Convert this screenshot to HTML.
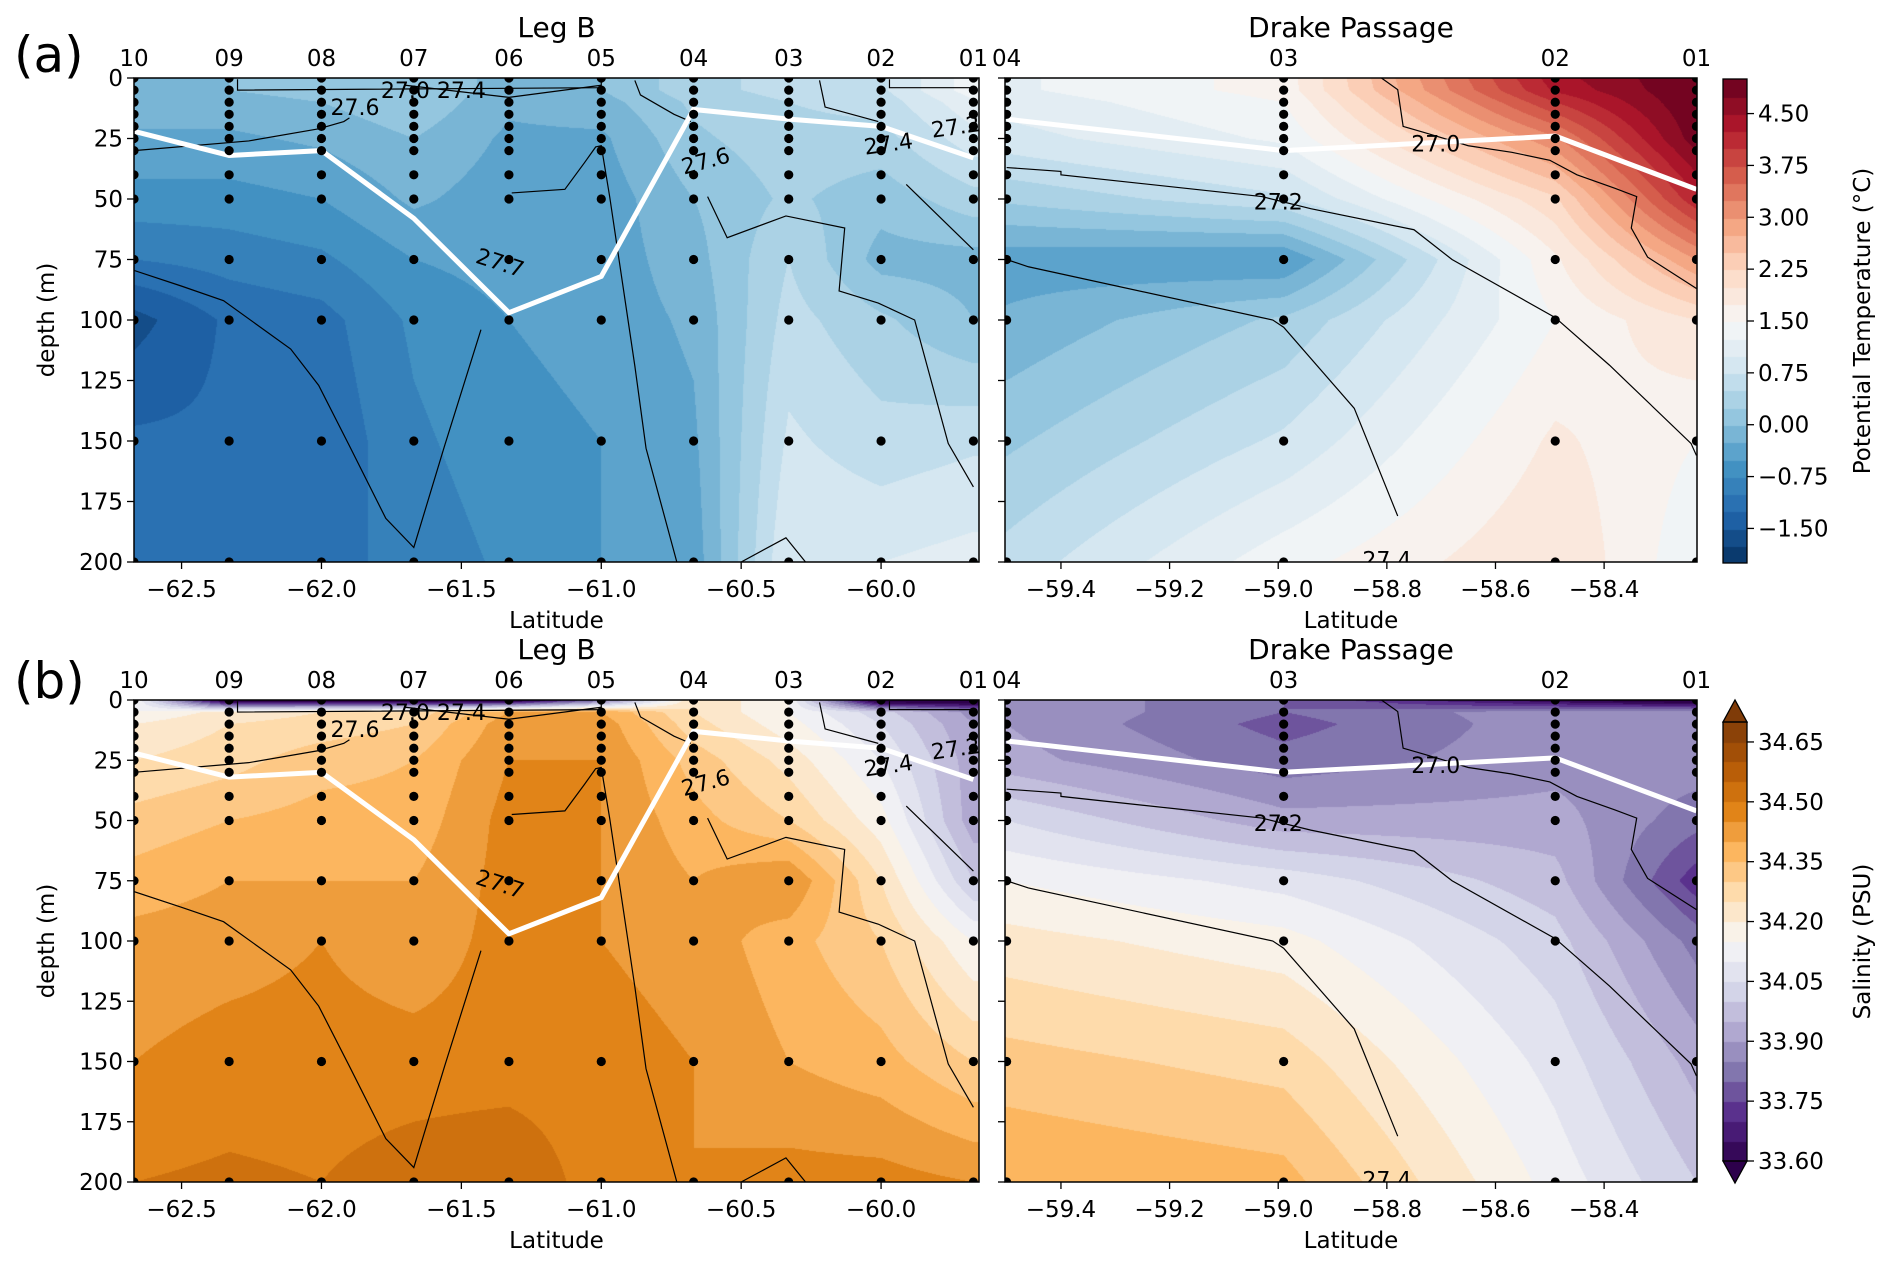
<!DOCTYPE html>
<html><head><meta charset="utf-8">
<style>
html,body{margin:0;padding:0;background:#fff;}
#wrap{position:relative;width:1892px;height:1273px;overflow:hidden;font-family:"DejaVu Sans","Liberation Sans",sans-serif;}
canvas{position:absolute;}
svg{position:absolute;left:0;top:0;}
text{font-family:"DejaVu Sans","Liberation Sans",sans-serif;fill:#000;}
</style></head>
<body>
<div id="wrap">
<canvas id="c0"></canvas>
<canvas id="c1"></canvas>
<canvas id="c2"></canvas>
<canvas id="c3"></canvas>
<canvas id="cb0"></canvas>
<canvas id="cb1"></canvas>
<svg id="svg" width="1892" height="1273" xmlns="http://www.w3.org/2000/svg"></svg>
</div>
<script>
// ---------- data ----------
const legNames=['10','09','08','07','06','05','04','03','02','01'];
const legLats=[-62.67,-62.33,-62.0,-61.67,-61.33,-61.0,-60.67,-60.33,-60.0,-59.67];
const dpNames=['04','03','02','01'];
const dpLats=[-59.5,-58.99,-58.49,-58.23];
const gridDepths=[0,5,10,25,50,75,100,150,200];
const sampleDepths=[0,5,10,15,20,25,30,40,50,75,100,150,200];
const legTemp=[
[-0.1,-0.1,-0.1,-0.3,-0.6,-1.0,-1.6,-1.2,-1.1],
[0.0,0.0,-0.1,-0.3,-0.6,-0.9,-1.2,-1.2,-1.2],
[0.1,0.1,0.0,-0.2,-0.5,-0.8,-1.1,-1.2,-1.1],
[0.2,0.2,0.2,0.0,-0.2,-0.5,-0.7,-0.8,-0.9],
[-0.1,-0.1,-0.2,-0.3,-0.4,-0.4,-0.5,-0.6,-0.7],
[0.0,0.0,-0.1,-0.3,-0.4,-0.4,-0.4,-0.5,-0.5],
[0.4,0.4,0.3,0.2,0.0,-0.1,-0.2,-0.3,-0.4],
[0.6,0.6,0.5,0.4,0.3,0.5,0.6,0.8,1.0],
[0.7,0.7,0.6,0.4,0.1,-0.1,0.3,0.6,1.0],
[1.4,1.4,1.2,0.9,0.4,-0.1,0.0,0.7,1.1]];
const dpTemp=[
[1.2,1.2,1.1,0.9,0.3,-0.4,-0.2,0.2,0.6],
[1.6,1.6,1.5,1.3,0.7,-0.5,0.3,0.8,1.4],
[4.4,4.3,4.0,3.2,2.2,1.7,1.5,1.8,2.0],
[5.0,5.0,5.0,4.9,4.2,3.0,2.0,1.5,1.3]];
const legSal=[
[34.15,34.15,34.2,34.25,34.32,34.37,34.42,34.45,34.5],
[33.5,34.22,34.25,34.28,34.35,34.4,34.43,34.47,34.51],
[33.5,34.25,34.27,34.33,34.37,34.4,34.45,34.47,34.5],
[33.5,34.27,34.3,34.35,34.37,34.4,34.42,34.47,34.53],
[33.5,34.4,34.43,34.45,34.47,34.47,34.47,34.47,34.55],
[33.8,34.4,34.43,34.45,34.45,34.45,34.45,34.47,34.47],
[34.25,34.25,34.27,34.33,34.37,34.4,34.43,34.45,34.45],
[34.15,34.15,34.17,34.23,34.3,34.45,34.37,34.4,34.47],
[33.5,34.02,34.05,34.1,34.17,34.25,34.3,34.37,34.47],
[33.5,33.88,33.9,33.92,33.92,34.0,34.15,34.3,34.45]];
const dpSal=[
[33.9,33.9,33.9,33.92,34.05,34.15,34.22,34.32,34.4],
[33.8,33.8,33.78,33.82,33.92,34.08,34.17,34.28,34.37],
[33.6,33.88,33.88,33.88,33.92,33.97,34.02,34.08,34.13],
[33.5,33.9,33.9,33.88,33.82,33.72,33.83,33.93,34.0]];
const legMld=[22,32,30,58,97,82,13,17,20,33];
const dpMld=[17,30,24,46];
const legContours=[
[[-62.67,79.5],[-62.5,86],[-62.35,92],[-62.11,112],[-62.01,127],[-61.9,152],[-61.77,182],[-61.67,194],[-61.56,152],[-61.43,104]],
[[-61.32,47.5],[-61.13,46],[-61.06,35],[-61.02,28.5],[-61.0,28],[-60.97,49],[-60.88,119],[-60.84,153],[-60.73,200]],
[[-62.67,30],[-62.26,26],[-62.01,21],[-61.92,18],[-61.9,16.5]],
[[-60.62,49],[-60.55,66],[-60.34,57],[-60.13,62],[-60.15,88],[-60.01,93],[-59.88,100],[-59.76,151],[-59.67,169]],
[[-60.88,1],[-60.86,7],[-60.74,15],[-60.68,18]],
[[-60.22,1],[-60.2,12],[-60.01,18]],
[[-59.91,44],[-59.67,71]],
[[-60.5,200],[-60.34,190],[-60.27,200]],
[[-62.3,0.5],[-62.3,5],[-61.0,4],[-61.0,0.5]],
[[-61.7,3],[-61.33,8],[-61.0,3]],
[[-59.97,0.5],[-59.97,4],[-59.67,4]]];
const dpContours=[
[[-58.81,0],[-58.78,4.8],[-58.77,20],[-58.73,22.6],[-58.65,28],[-58.57,30.7],[-58.5,34],[-58.45,40],[-58.38,45.6],[-58.34,49],[-58.35,62],[-58.32,74],[-58.23,87]],
[[-59.5,37],[-59.4,38.6],[-59.4,40],[-59.03,49],[-58.94,54],[-58.75,62.7],[-58.68,75],[-58.49,99],[-58.39,118.7],[-58.24,151],[-58.23,156]],
[[-59.5,75],[-59.46,78],[-59.01,100],[-58.99,103],[-58.86,136.5],[-58.78,181]]];
const legLabels=[['27.6',-61.88,12,0],['27.7',-61.37,76,18],['27.6',-60.62,34,-15],['27.4',-59.97,27,-8],['27.2',-59.73,20,-8],['27.0 27.4',-61.6,5,0]];
const dpLabels=[['27.0',-58.71,27,0],['27.2',-59.0,51,0],['27.4',-58.8,199,0]];
const legXTicks=[-62.5,-62.0,-61.5,-61.0,-60.5,-60.0];
const dpXTicks=[-59.4,-59.2,-59.0,-58.8,-58.6,-58.4];
const yTicks=[0,25,50,75,100,125,150,175,200];
const tempCbTicks=[-1.5,-0.75,0,0.75,1.5,2.25,3.0,3.75,4.5];
const salCbTicks=[33.6,33.75,33.9,34.05,34.2,34.35,34.5,34.65];

// ---------- colormaps ----------
const RdBu_r=['#053061','#2166ac','#4393c3','#92c5de','#d1e5f0','#f7f7f7','#fddbc7','#f4a582','#d6604d','#b2182b','#67001f'];
const PuOr_r=['#2d004b','#542788','#8073ac','#b2abd2','#d8daeb','#f7f7f7','#fee0b6','#fdb863','#e08214','#b35806','#7f3b08'];
function hex(h){return [parseInt(h.substr(1,2),16),parseInt(h.substr(3,2),16),parseInt(h.substr(5,2),16)];}
function cmap(stops,t){t=Math.max(0,Math.min(1,t));const n=stops.length-1;const i=Math.min(n-1,Math.floor(t*n));const f=t*n-i;const a=hex(stops[i]),b=hex(stops[i+1]);return [a[0]+(b[0]-a[0])*f,a[1]+(b[1]-a[1])*f,a[2]+(b[2]-a[2])*f];}
const tempScale={stops:RdBu_r,min:-2,max:5,step:0.25};
const salScale={stops:PuOr_r,min:33.6,max:34.7,step:0.05};
function bandColor(sc,v){
  const nb=Math.round((sc.max-sc.min)/sc.step);
  let k=Math.floor((v-sc.min)/sc.step);
  if(k<0) return cmap(sc.stops,0);
  if(k>=nb) return cmap(sc.stops,1);
  return cmap(sc.stops,(k+0.5)/nb);
}

// ---------- panels ----------
const rows=[{y0:78,y1:562},{y0:700,y1:1182}];
const cols=[{x0:134,x1:979,lmin:-62.67,lmax:-59.65,lats:legLats,names:legNames,mld:legMld,cont:legContours,labels:legLabels,xt:legXTicks,title:'Leg B'},
            {x0:1005,x1:1697,lmin:-59.503,lmax:-58.229,lats:dpLats,names:dpNames,mld:dpMld,cont:dpContours,labels:dpLabels,xt:dpXTicks,title:'Drake Passage'}];
function interp1(arr,v){
  if(v<=arr[0]) return [0,0];
  for(let i=0;i<arr.length-1;i++){ if(v<=arr[i+1]) return [i,(v-arr[i])/(arr[i+1]-arr[i])]; }
  return [arr.length-2,1];
}
function field(lats,vals,lat,d){
  const [i,fx]=interp1(lats,lat);const [j,fy]=interp1(gridDepths,d);
  const a=vals[i][j],b=vals[i+1][j],c=vals[i][j+1],e=vals[i+1][j+1];
  return (a*(1-fx)+b*fx)*(1-fy)+(c*(1-fx)+e*fx)*fy;
}
const svg=document.getElementById('svg');
const NS='http://www.w3.org/2000/svg';
function el(tag,attrs,parent){const e=document.createElementNS(NS,tag);for(const k in attrs)e.setAttribute(k,attrs[k]);(parent||svg).appendChild(e);return e;}
function txt(s,x,y,size,anchor,parent,rot){const t=el('text',{x:x,y:y,'font-size':size,'text-anchor':anchor||'middle'},parent);if(rot!==undefined)t.setAttribute('transform','rotate('+rot+' '+x+' '+y+')');t.textContent=s;return t;}
const fmtLat=v=>(v<0?'\u2212':'')+Math.abs(v).toFixed(1);
const panelData=[[legTemp,dpTemp],[legSal,dpSal]];
const scales=[tempScale,salScale];
const rowNames=['temperature','salinity'];

rows.forEach((row,ri)=>{
  cols.forEach((col,ci)=>{
    const sx=v=>col.x0+(v-col.lmin)/(col.lmax-col.lmin)*(col.x1-col.x0);
    const sy=d=>row.y0+d/200*(row.y1-row.y0);
    const W=col.x1-col.x0,H=row.y1-row.y0;
    const cv=document.getElementById('c'+(ri*2+ci));
    cv.width=W;cv.height=H;cv.style.left=col.x0+'px';cv.style.top=row.y0+'px';
    const ctx=cv.getContext('2d');const img=ctx.createImageData(W,H);
    const vals=panelData[ri][ci];
    for(let py=0;py<H;py++){const d=(py+0.5)/H*200;
      for(let px=0;px<W;px++){const lat=col.lmin+(px+0.5)/W*(col.lmax-col.lmin);
        const c=bandColor(scales[ri],field(col.lats,vals,lat,d));
        const o=(py*W+px)*4;img.data[o]=c[0];img.data[o+1]=c[1];img.data[o+2]=c[2];img.data[o+3]=255;}}
    ctx.putImageData(img,0,0);
    const g=el('g',{});
    
    
    const clip='clip'+ri+ci;
    const cp=el('clipPath',{id:clip},g);el('rect',{x:col.x0,y:row.y0,width:W,height:H},cp);
    const inner=el('g',{'clip-path':'url(#'+clip+')'},g);
    col.cont.forEach(line=>{
      const p=el('polyline',{points:line.map(q=>sx(q[0])+','+sy(q[1])).join(' '),fill:'none',stroke:'#000','stroke-width':1.2},inner);
      
      
    });
    const m=el('polyline',{points:col.lats.map((v,i)=>sx(v)+','+sy(col.mld[i])).join(' '),fill:'none',stroke:'#fff','stroke-width':5},inner);
    
    
    col.lats.forEach(v=>{sampleDepths.forEach(d=>{
      const c=el('circle',{cx:sx(v),cy:sy(d),r:4.6,fill:'#000'},inner);
      
      
    });});
    col.labels.forEach(l=>{const t=txt(l[0],sx(l[1]),sy(l[2])+8,22,'middle',inner,l[3]);
      
      });
    el('rect',{x:col.x0,y:row.y0,width:W,height:H,fill:'none',stroke:'#000','stroke-width':1.5},g);
    yTicks.forEach(d=>{el('line',{x1:col.x0-7,x2:col.x0,y1:sy(d),y2:sy(d),stroke:'#000','stroke-width':1.3},g);
      if(ci==0){const t=txt(String(d),col.x0-11,sy(d)+8,23,'end',g);
        
        }});
    col.xt.forEach(v=>{el('line',{x1:sx(v),x2:sx(v),y1:row.y1,y2:row.y1+7,stroke:'#000','stroke-width':1.3},g);
      const t=txt(fmtLat(v),sx(v),row.y1+35,23,'middle',g);
      
      });
    col.lats.forEach((v,i)=>{const t=txt(col.names[i],sx(v),row.y0-12,23,'middle',g);
      
      });
    const tt=txt(col.title,(col.x0+col.x1)/2,row.y0-41,28,'middle',g);
    
    
    const xl=txt('Latitude',(col.x0+col.x1)/2,row.y1+66,23,'middle',g);
    
    
    if(ci==0){const yl=txt('depth (m)',54,(row.y0+row.y1)/2,23,'middle',g,-90);
      
      }
  });
  const pl=txt(ri==0?'(a)':'(b)',14,ri==0?72:698,50,'start');
  
  
});

// ---------- colorbars ----------
function colorbar(idx,sc,ticks,y0,y1,title,ext){
  const x0=1723,x1=1747;
  const cv=document.getElementById('cb'+idx);
  cv.width=x1-x0;cv.height=y1-y0;cv.style.left=x0+'px';cv.style.top=y0+'px';
  const ctx=cv.getContext('2d');
  const nb=Math.round((sc.max-sc.min)/sc.step);
  const sy=v=>y1-(v-sc.min)/(sc.max-sc.min)*(y1-y0);
  for(let k=0;k<nb;k++){const c=cmap(sc.stops,(k+0.5)/nb);
    ctx.fillStyle='rgb('+c.map(Math.round).join(',')+')';
    const a=sy(sc.min+k*sc.step)-y0,b=sy(sc.min+(k+1)*sc.step)-y0;ctx.fillRect(0,Math.floor(b),x1-x0,Math.ceil(a-b)+1);}
  const g=el('g',{});
  
  
  if(ext){const lo=cmap(sc.stops,0),hi=cmap(sc.stops,1);
    el('polygon',{points:x0+','+y0+' '+x1+','+y0+' '+(x0+x1)/2+','+(y0-22),fill:'rgb('+hi.map(Math.round).join(',')+')',stroke:'#000','stroke-width':1.3},g);
    el('polygon',{points:x0+','+y1+' '+x1+','+y1+' '+(x0+x1)/2+','+(y1+22),fill:'rgb('+lo.map(Math.round).join(',')+')',stroke:'#000','stroke-width':1.3},g);}
  el('rect',{x:x0,y:y0,width:x1-x0,height:y1-y0,fill:'none',stroke:'#000','stroke-width':1.3},g);
  ticks.forEach(v=>{el('line',{x1:x1,x2:x1+7,y1:sy(v),y2:sy(v),stroke:'#000','stroke-width':1.3},g);
    const t=txt((v<0?'\u2212':'')+Math.abs(v).toFixed(2),x1+11,sy(v)+8,23,'start',g);
    
    });
  const tl=txt(title,1870,(y0+y1)/2,23,'middle',g,-90);
  
  
}
colorbar(0,tempScale,tempCbTicks,79,563,'Potential Temperature (\u00B0C)',false);
colorbar(1,salScale,salCbTicks,722,1161,'Salinity (PSU)',true);
</script>
</body></html>
